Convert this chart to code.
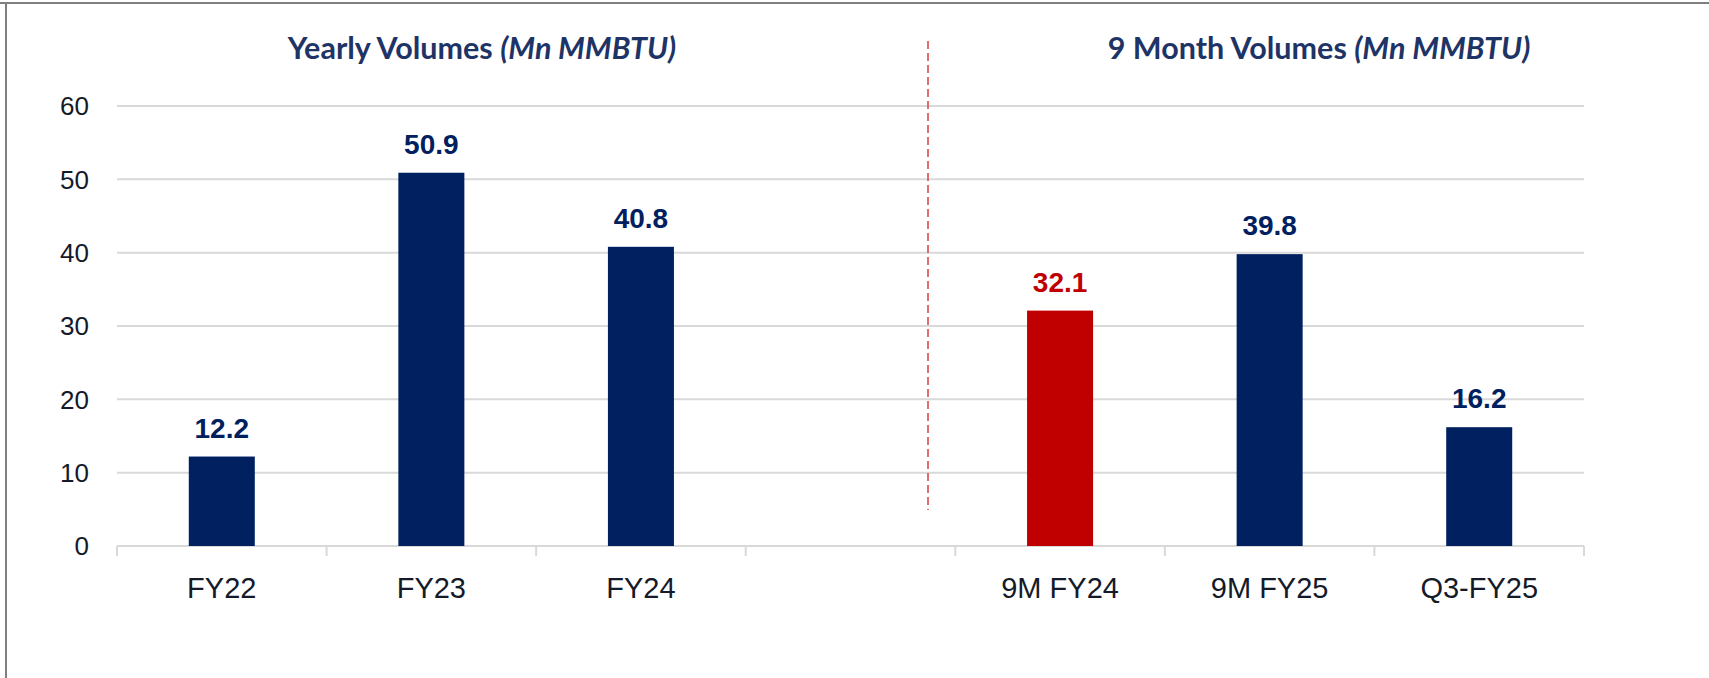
<!DOCTYPE html>
<html>
<head>
<meta charset="utf-8">
<script src="https://cdn.jsdelivr.net/npm/d3@7"></script>
<style>
  html, body { margin: 0; padding: 0; background: #fff; }
  svg { display: block; }
  .tick-label { font-family: "Liberation Sans", Arial, sans-serif; fill: #141a28; }
  .value-label { font-family: "Liberation Sans", Arial, sans-serif; font-weight: bold; }
  .panel-title { font-family: Lato, "Open Sans", sans-serif; font-weight: bold; fill: #1f3466; }
</style>
</head>
<body>
<div id="wrapper"></div>
<script>
// data
const categories = ["FY22", "FY23", "FY24", "", "9M FY24", "9M FY25", "Q3-FY25"];
const values = [12.2, 50.9, 40.8, null, 32.1, 39.8, 16.2];
const highlighted = ["9M FY24"];
const yTicks = [0, 10, 20, 30, 40, 50, 60];
const titles = ["Yearly Volumes", "9 Month Volumes"];
const titleUnit = "(Mn MMBTU)";

function drawChart() {
  const dimensions = {
    width: 1709,
    height: 678,
    margins: { top: 106, right: 125, bottom: 132, left: 117 },
  };
  dimensions.boundedWidth =
    dimensions.width - dimensions.margins.left - dimensions.margins.right;
  dimensions.boundedHeight =
    dimensions.height - dimensions.margins.top - dimensions.margins.bottom;

  const navy = "#002060";
  const red = "#c00000";
  const grid = "#d9d9d9";

  const wrapper = d3
    .select("#wrapper")
    .append("svg")
    .attr("width", dimensions.width)
    .attr("height", dimensions.height);

  // frame (top + left edge only, like the slide crop)
  wrapper.append("line")
    .attr("x1", 0).attr("x2", dimensions.width)
    .attr("y1", 3).attr("y2", 3)
    .attr("stroke", "#7f7f7f").attr("stroke-width", 2);
  wrapper.append("line")
    .attr("x1", 6).attr("x2", 6)
    .attr("y1", 3).attr("y2", dimensions.height)
    .attr("stroke", "#7f7f7f").attr("stroke-width", 2);

  const bounds = wrapper
    .append("g")
    .attr("transform", `translate(${dimensions.margins.left},${dimensions.margins.top})`);

  // scales
  const yScale = d3
    .scaleLinear()
    .domain([0, 60])
    .range([dimensions.boundedHeight, 0]);

  const xOuter = d3
    .scaleBand()
    .domain(categories)
    .range([0, dimensions.boundedWidth])
    .padding(0);

  const xBars = d3
    .scaleBand()
    .domain(categories)
    .range([0, dimensions.boundedWidth])
    .paddingInner(0.685)
    .paddingOuter(0.3425);

  // gridlines
  bounds.append("g")
    .selectAll("line")
    .data(yTicks)
    .join("line")
    .attr("x1", 0)
    .attr("x2", dimensions.boundedWidth)
    .attr("y1", (d) => yScale(d))
    .attr("y2", (d) => yScale(d))
    .attr("stroke", grid)
    .attr("stroke-width", 2);

  // y labels
  bounds.append("g")
    .selectAll("text")
    .data(yTicks)
    .join("text")
    .attr("class", "tick-label")
    .attr("x", -28)
    .attr("y", (d) => yScale(d))
    .attr("dy", "0.36em")
    .attr("text-anchor", "end")
    .style("font-size", "26px")
    .text((d) => d);

  // category separators on the baseline
  const edges = categories.map((c) => xOuter(c)).concat([dimensions.boundedWidth]);
  bounds.append("g")
    .selectAll("line")
    .data(edges)
    .join("line")
    .attr("x1", (d) => d)
    .attr("x2", (d) => d)
    .attr("y1", dimensions.boundedHeight)
    .attr("y2", dimensions.boundedHeight + 10)
    .attr("stroke", grid)
    .attr("stroke-width", 2);

  // category labels
  bounds.append("g")
    .selectAll("text")
    .data(categories)
    .join("text")
    .attr("class", "tick-label")
    .attr("x", (d) => xOuter(d) + xOuter.bandwidth() / 2)
    .attr("y", dimensions.boundedHeight + 52)
    .attr("text-anchor", "middle")
    .style("font-size", "29px")
    .text((d) => d);

  const rows = categories
    .map((c, i) => ({ cat: c, value: values[i] }))
    .filter((d) => d.value != null);

  // bars
  bounds.append("g")
    .selectAll("rect")
    .data(rows)
    .join("rect")
    .attr("x", (d) => xBars(d.cat))
    .attr("width", xBars.bandwidth())
    .attr("y", (d) => yScale(d.value))
    .attr("height", (d) => yScale(0) - yScale(d.value))
    .attr("fill", (d) => (highlighted.includes(d.cat) ? red : navy));

  // value labels
  bounds.append("g")
    .selectAll("text")
    .data(rows)
    .join("text")
    .attr("class", "value-label")
    .attr("x", (d) => xBars(d.cat) + xBars.bandwidth() / 2)
    .attr("y", (d) => yScale(d.value) - 19)
    .attr("text-anchor", "middle")
    .style("font-size", "28px")
    .attr("fill", (d) => (highlighted.includes(d.cat) ? red : navy))
    .text((d) => d3.format(".1f")(d.value));

  // dashed divider between the two panels
  wrapper.append("line")
    .attr("x1", 928).attr("x2", 928)
    .attr("y1", 41).attr("y2", 510)
    .attr("stroke", "#dd5f5f")
    .attr("stroke-width", 1.8)
    .attr("stroke-dasharray", "8 4");

  // panel titles
  const titleX = [482, 1319];
  titles.forEach((t, i) => {
    const title = wrapper.append("text")
      .attr("class", "panel-title")
      .attr("x", titleX[i])
      .attr("y", 59)
      .attr("text-anchor", "middle")
      .style("font-size", "30.5px");
    title.append("tspan").text(t + " ");
    title.append("tspan").style("font-style", "italic").text(titleUnit);
  });
}

drawChart();
</script>
</body>
</html>
